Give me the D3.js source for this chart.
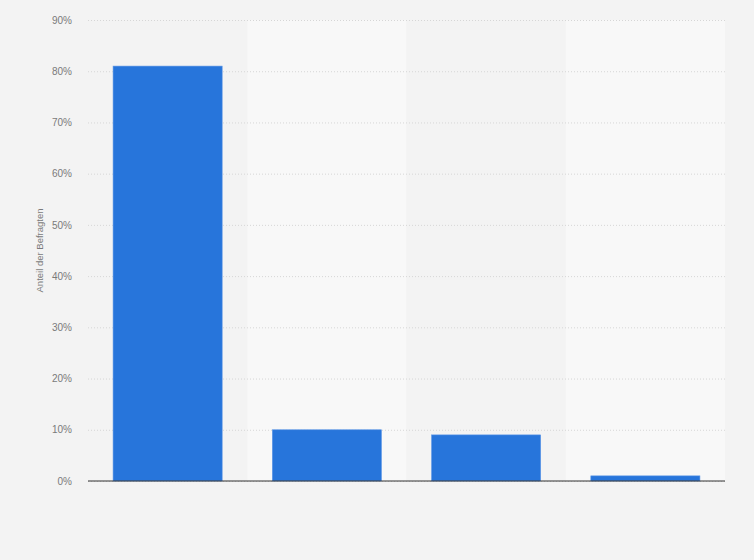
<!DOCTYPE html>
<html>
<head>
<meta charset="utf-8">
<script src="https://cdn.jsdelivr.net/npm/d3@7"></script>
<style>
  body { margin: 0; background: #f3f3f3; }
  svg { display: block; font-family: "Liberation Sans", Arial, sans-serif; }
</style>
</head>
<body>
<div id="chart"></div>
<script>
// Data
const categories = ["A", "B", "C", "D"];
const values = [81, 10, 9, 1];
const yTicks = [0, 10, 20, 30, 40, 50, 60, 70, 80, 90];

const width = 754;
const height = 560;
const margin = { top: 20, right: 29, bottom: 79, left: 88 };

const svg = d3.select("#chart").append("svg")
    .attr("width", width)
    .attr("height", height);

svg.append("rect")
    .attr("width", width)
    .attr("height", height)
    .attr("fill", "#f3f3f3");

const x = d3.scaleBand()
    .domain(categories)
    .range([margin.left, width - margin.right])
    .paddingInner(0.315)
    .paddingOuter(0.1575);

const y = d3.scaleLinear()
    .domain([0, 90])
    .range([height - margin.bottom, margin.top]);

// alternating column bands
svg.append("g")
    .selectAll("rect")
    .data(categories)
    .join("rect")
    .attr("x", d => x(d) - x.step() * x.paddingOuter())
    .attr("y", y(90))
    .attr("width", x.step())
    .attr("height", y(0) - y(90))
    .attr("fill", (d, i) => i % 2 ? "#f8f8f8" : "#f3f3f3");

// grid lines
const yAxis = svg.append("g")
    .attr("transform", `translate(${margin.left},0)`)
    .call(d3.axisLeft(y).tickValues(yTicks).tickFormat(d => d + "%")
        .tickSize(-(width - margin.left - margin.right)).tickPadding(16));
yAxis.select(".domain").remove();
yAxis.selectAll(".tick line")
    .attr("stroke", "#d6d6d6")
    .attr("stroke-dasharray", "1,2");
yAxis.selectAll(".tick text")
    .attr("fill", "#7a7a7a")
    .attr("font-size", 10);

// bars
svg.append("g")
    .selectAll("rect")
    .data(values)
    .join("rect")
    .attr("x", (d, i) => x(categories[i]))
    .attr("y", d => y(d))
    .attr("width", x.bandwidth())
    .attr("height", d => y(0) - y(d))
    .attr("fill", "#2775db")
    .attr("stroke", "#5a95e6")
    .attr("stroke-width", 0.6);

// baseline
svg.append("line")
    .attr("x1", margin.left)
    .attr("x2", width - margin.right)
    .attr("y1", y(0))
    .attr("y2", y(0))
    .attr("stroke", "#333")
    .attr("stroke-width", 1.2);

// y axis label
svg.append("text")
    .attr("transform", `translate(43,${(y(0) + y(90)) / 2}) rotate(-90)`)
    .attr("text-anchor", "middle")
    .attr("fill", "#7a7a7a")
    .attr("font-size", 9.5)
    .text("Anteil der Befragten");
</script>
</body>
</html>
